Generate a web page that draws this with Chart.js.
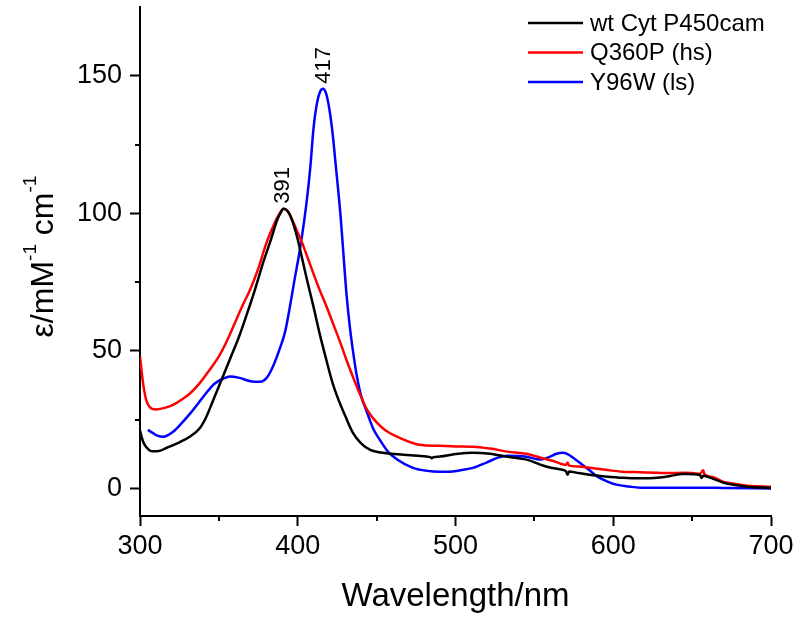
<!DOCTYPE html>
<html>
<head>
<meta charset="utf-8">
<script src="https://cdn.jsdelivr.net/npm/chart.js@4.4.1/dist/chart.umd.min.js"></script>
<style>
  html, body { margin: 0; padding: 0; background: #fff; }
  #wrap { width: 800px; height: 623px; }
</style>
</head>
<body>
<div id="wrap"><canvas id="spectra"></canvas></div>
<script>
function $id(id) { return document.getElementById(id); }

// wt Cyt P450cam
const wtNm = [300, 302, 304, 308, 312, 317, 325, 332, 338, 342,
  346, 351, 357, 363, 368, 373, 378, 383, 387, 389,
  391, 393, 395, 397, 400, 403, 406, 410, 414, 418,
  422, 425, 430, 435, 440, 446, 456, 467, 476, 484,
  485, 486, 490, 500, 511, 522, 533, 545, 558, 566,
  570, 571, 572, 578, 585, 595, 606, 617, 628, 636,
  644, 650, 655, 656, 657, 663, 670, 678, 685, 692,
  700];
const wtEps = [21, 17, 15, 13.5, 13.6, 14.8, 16.8, 19, 22, 26,
  31.5, 38.5, 47, 55.5, 63.8, 72.5, 82, 90.5, 97.7, 100,
  101.7, 101.2, 99.5, 96.5, 90.5, 83, 75.5, 66, 56, 47,
  38.5, 33.5, 26.5, 20.2, 16.5, 14, 12.8, 12.3, 11.9, 11.4,
  11, 11.4, 11.6, 12.5, 13, 12.6, 11.5, 10.5, 7.9, 7,
  6.3, 5.0, 6.2, 5.6, 5, 4.4, 3.9, 3.7, 3.9, 4.5,
  5.3, 5.2, 4.9, 3.8, 4.6, 3.6, 2.1, 1.2, 0.6, 0.4,
  0.2];

// Q360P (hs)
const hsNm = [300, 302, 304, 306, 310, 315, 321, 327, 332, 338,
  344, 350, 355, 360, 365, 370, 375, 380, 385, 388,
  391, 394, 397, 400, 403, 406, 410, 414, 418, 422,
  427, 431, 435, 440, 444, 450, 456, 465, 477, 490,
  500, 511, 522, 533, 545, 554, 562, 570, 571, 572,
  578, 585, 595, 606, 617, 628, 636, 644, 650, 655,
  657, 658, 663, 670, 678, 685, 692, 700];
const hsEps = [48, 38, 32, 29.7, 28.7, 29.2, 30.4, 32.5, 34.7, 38.4,
  43, 48, 53.5, 60, 66.5, 72.5, 80, 89, 96, 99.5,
  101.7, 100.5, 97, 93, 89, 84.3, 78, 72, 66.5, 60.5,
  53, 46.5, 40.5, 33.5, 28.6, 24, 21, 18.3, 15.9, 15.5,
  15.3, 15.2, 14.5, 13.4, 12.6, 11.2, 10, 8.6, 9.4, 8.3,
  8, 7.5, 6.8, 6.1, 5.9, 5.7, 5.6, 5.7, 5.6, 5.3,
  6.6, 5.0, 4.2, 2.4, 1.6, 1.0, 0.8, 0.6];

// Y96W (ls)
const lsNm = [305, 308, 311, 315, 318, 321, 326, 332, 337, 342,
  347, 353, 357, 363, 370, 376, 380, 384, 389, 392,
  395, 398, 401, 404, 406, 408, 410, 412, 414, 416,
  418, 420, 422, 424, 427, 431, 433, 435, 437.5, 440,
  444, 448, 452, 457, 463, 473, 482, 490, 496, 503,
  511, 520, 527, 533, 540, 545, 554, 560, 564, 568,
  571, 575, 579, 585, 590, 596, 602, 610, 617, 630,
  650, 670, 700];
const lsEps = [21.3, 20.2, 19.2, 18.8, 19.5, 20.6, 23.5, 27.4, 31, 34.7,
  38, 40, 40.7, 40.2, 39, 38.8, 40, 44, 51.5, 57,
  66, 76, 85.6, 97, 106, 117, 131, 139.5, 144, 145.3,
  143.5, 138, 129.5, 118, 100, 70, 58.8, 50, 40.7, 34,
  27.5, 21.5, 17.7, 13.5, 10.5, 7.5, 6.4, 6.1, 6.1, 6.6,
  7.5, 9.5, 11.2, 11.9, 11.8, 11.5, 10.5, 11.6, 12.6, 13,
  12.5, 11, 9.3, 6.6, 4.3, 2.6, 1.4, 0.7, 0.3, 0.3,
  0.3, 0.2, 0];

const seriesNames = ["wt Cyt P450cam", "Q360P (hs)", "Y96W (ls)"];
const seriesColors = ["#000000", "#ff0000", "#0000ff"];

const xTicks = [300, 400, 500, 600, 700];
const xMinor = [350, 450, 550, 650];
const yTicks = [0, 50, 100, 150];
const yMinor = [25, 75, 125];

// peak markers (Soret maxima)
const peakNm = [391, 417];
const peakEps = [101.7, 145.3];

const FONT = '"Liberation Sans", Arial, Helvetica, sans-serif';
Chart.defaults.font.family = FONT;
Chart.defaults.color = "#000";

function toPoints(xs, ys) {
    return xs.map((x, i) => ({ x: x, y: ys[i] }));
}

const decor = {
    id: "decor",
    afterDraw(chart) {
        const ctx = chart.ctx;
        const xs = chart.scales.x, ys = chart.scales.y;
        const area = chart.chartArea;
        ctx.save();

        // minor ticks
        ctx.strokeStyle = "#000";
        ctx.lineWidth = 2;
        xMinor.forEach(v => {
            const px = Math.round(xs.getPixelForValue(v));
            ctx.beginPath();
            ctx.moveTo(px, area.bottom);
            ctx.lineTo(px, area.bottom + 5);
            ctx.stroke();
        });
        yMinor.forEach(v => {
            const py = Math.round(ys.getPixelForValue(v));
            ctx.beginPath();
            ctx.moveTo(area.left, py);
            ctx.lineTo(area.left - 5, py);
            ctx.stroke();
        });

        // peak labels
        ctx.fillStyle = "#000";
        ctx.font = "22px " + FONT;
        ctx.textAlign = "left";
        ctx.textBaseline = "middle";
        peakNm.forEach((nm, i) => {
            ctx.save();
            ctx.translate(xs.getPixelForValue(nm) - 1, ys.getPixelForValue(peakEps[i]) - 5);
            ctx.rotate(-Math.PI / 2);
            ctx.fillText(String(nm), 0, 0);
            ctx.restore();
        });

        // y axis title with superscripts
        const big = 32, small = 19, rise = 17;
        const parts = [
            ["\u03b5/mM", big, 0],
            ["-1", small, rise],
            [" cm", big, 0],
            ["-1", small, rise]
        ];
        let total = 0;
        parts.forEach(p => { ctx.font = p[1] + "px " + FONT; total += ctx.measureText(p[0]).width; });
        ctx.save();
        ctx.translate(53, (area.top + area.bottom) / 2 - 5 + total / 2);
        ctx.rotate(-Math.PI / 2);
        ctx.textBaseline = "alphabetic";
        let pos = 0;
        parts.forEach(p => {
            ctx.font = p[1] + "px " + FONT;
            ctx.fillText(p[0], pos, -p[2]);
            pos += ctx.measureText(p[0]).width;
        });
        ctx.restore();

        // legend
        ctx.font = "24px " + FONT;
        ctx.textBaseline = "middle";
        ctx.lineWidth = 2.5;
        chart.data.datasets.forEach((ds, i) => {
            const y = 23 + i * 29.5;
            ctx.strokeStyle = ds.borderColor;
            ctx.beginPath();
            ctx.moveTo(528, y);
            ctx.lineTo(583, y);
            ctx.stroke();
            ctx.fillText(ds.label, 590, y + 1);
        });
        ctx.restore();
    }
};

window.spectraChart = new Chart($id("spectra"), {
    type: "line",
    data: {
        datasets: [
            { label: seriesNames[0], data: toPoints(wtNm, wtEps), borderColor: seriesColors[0] },
            { label: seriesNames[1], data: toPoints(hsNm, hsEps), borderColor: seriesColors[1] },
            { label: seriesNames[2], data: toPoints(lsNm, lsEps), borderColor: seriesColors[2] }
        ]
    },
    options: {
        responsive: true,
        maintainAspectRatio: false,
        animation: false,
        parsing: false,
        layout: { padding: { top: 7, right: 29, left: 0, bottom: 0 } },
        elements: {
            point: { radius: 0 },
            line: { borderWidth: 2.5, cubicInterpolationMode: "monotone", fill: false }
        },
        plugins: {
            legend: { display: false },
            tooltip: { enabled: false }
        },
        scales: {
            x: {
                type: "linear",
                min: 300,
                max: 700,
                border: { color: "#000", width: 2 },
                grid: { drawOnChartArea: false, drawTicks: true, tickLength: 10, tickWidth: 2, tickColor: "#000" },
                ticks: { font: { size: 27 }, color: "#000", padding: 4, maxRotation: 0 },
                afterBuildTicks: (scale) => { scale.ticks = xTicks.map(v => ({ value: v })); },
                afterFit: (scale) => { scale.height = 107; scale.paddingLeft = 0; scale.paddingRight = 0; },
                title: { display: true, text: "Wavelength/nm", font: { size: 33 }, color: "#000", padding: { top: 0, bottom: 6 } }
            },
            y: {
                min: -10,
                max: 175,
                border: { color: "#000", width: 2 },
                grid: { drawOnChartArea: false, drawTicks: true, tickLength: 10, tickWidth: 2, tickColor: "#000" },
                ticks: { font: { size: 27 }, color: "#000", padding: 8 },
                afterBuildTicks: (scale) => { scale.ticks = yTicks.map(v => ({ value: v })); },
                afterFit: (scale) => { scale.width = 140; scale.paddingTop = 0; scale.paddingBottom = 0; }
            }
        }
    },
    plugins: [decor]
});
</script>
</body>
</html>
